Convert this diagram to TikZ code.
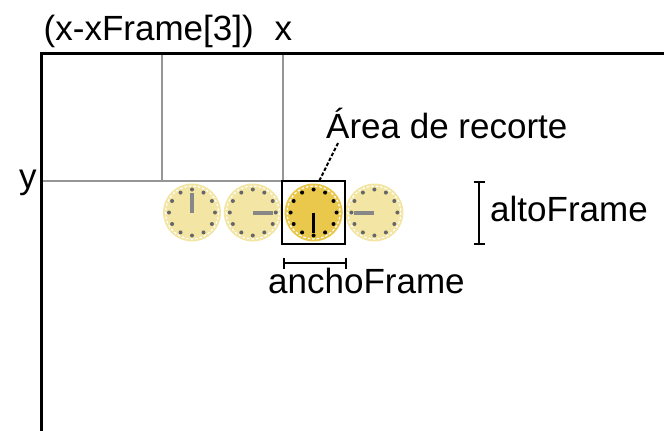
\documentclass[tikz,border=0pt]{standalone}
\usepackage{fontspec}
\setmainfont{Liberation Sans}
\usepackage{tikz}
\usetikzlibrary{arrows.meta}
\usetikzlibrary{positioning}
\definecolor{palefill}{RGB}{243,229,163}
\definecolor{activefill}{RGB}{234,200,76}
\definecolor{gridgray}{RGB}{150,150,150}
\definecolor{handgray}{RGB}{135,135,135}
\tikzset{
    border/.style = {line width=3pt},
    gridline/.style = {gridgray,line width=1.3pt},
    lbl/.style = {inner sep=0,anchor=base west,font=\fontsize{35}{40}\selectfont},
    leader/.style = {dashed,dash pattern=on 3.5pt off 2pt,line width=2pt},
    bracket/.style = {line width=1.6pt,{Bar[width=11pt,line width=1.6pt]}-{Bar[width=11pt,line width=1.6pt]}}
}
\tikzset{
    clock/.style = {shape=circle,inner sep=0,minimum size=58pt,fill=palefill},
    clockon/.style = {clock,fill=activefill},
    ring/.style = {white,dashed,dash pattern=on 2.5pt off 2pt,line width=1.2pt},
    hand/.style = {handgray,line width=4pt},
    handon/.style = {black,line width=3.5pt}
}

\begin{document}
\begin{tikzpicture}[x=1pt,y=-1pt]
        \useasboundingbox (0,0) rectangle (664,431);
        \newcommand*\csep{60.8}
        % Grid
        \draw[gridline] (43,181) -- (283,181) -- (283,55);
        \draw[gridline] (162,55) -- (162,181);
        % Frame
        \draw[border] (41.5,431) -- (41.5,53.5) -- (664,53.5);
        % Clocks
        \foreach \i in {1,2,4}
            \node[clock] (c\i) at (192+\i*\csep-\csep,212.5) {};
        \node[clockon] (c3) at (192+2*\csep,212.5) {};
        \foreach \i in {1,...,4}
            \draw[ring] (c\i) circle (26.5);
        \foreach \i in {1,2,4}
            \foreach \a in {0,30,...,330}
                \fill[black!60] (c\i) ++(\a:23pt) circle (2pt);
        \foreach \a in {0,30,...,330}
            \fill[black] (c3) ++(\a:23pt) circle (2pt);
        % Hands
        \foreach \i/\a in {1/90,2/0,4/180}
            \draw[hand] (c\i.center) -- ++(\a:20pt);
        \draw[handon] (c3.center) -- ++(270:20pt);
        % Clip area
        \node[draw,line width=1.6pt,minimum size=63pt,inner sep=0] (recorte) at (c3) {};
        % Labels
        \node[lbl] (xf) at (43.5,40) {(x-xFrame[3])};
        \node[lbl] (xx) at (274.5,40) {x};
        \node[lbl] (yy) at (19,188) {y};
        \node[lbl] (area) at (326,138) {Área de recorte};
        \node[lbl] (alto) at (490,221.5) {altoFrame};
        \node[lbl] (ancho) at (268,293.5) {anchoFrame};
        % Brackets
        \coordinate (atop) at (479,181);
        \coordinate (abot) at (479,244.5);
        \coordinate (aw) at (283,263);
        \coordinate (ae) at (347,263);
        \draw[bracket] (atop) -- (abot);
        \draw[bracket] (aw) -- (ae);
        \draw[leader] ([xshift=12pt,yshift=-5pt]area.base west) -- ([xshift=6pt]recorte.north);
    \end{tikzpicture}
\end{document}
